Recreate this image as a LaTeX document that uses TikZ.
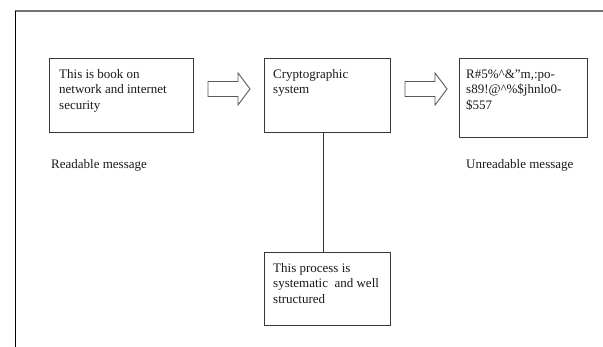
\documentclass[tikz,border=0pt]{standalone}
\usepackage{fontspec}
\setmainfont{Liberation Serif}
\begin{document}
\begin{tikzpicture}[x=1pt,y=-1pt,
  box/.style={draw=black!78,line width=1pt,fill=white,inner sep=0pt,anchor=north west},
  txt/.style={anchor=north west,inner sep=0pt,align=left,text=black!90,
    font=\fontsize{13}{15.5}\selectfont},
  caption/.style={anchor=base west,inner sep=0pt,text=black!90,
    font=\fontsize{13}{15.5}\selectfont},
  blockarrow/.style={draw=black!65,line width=0.9pt,fill=white,line join=miter},
  frameline/.style={line width=1pt}]
\useasboundingbox (0,0) rectangle (603,347);

% page frame: top and left edges
\coordinate (frameTL) at (15,11);
\coordinate (frameTR) at (603,11);
\coordinate (frameBL) at (15,347);
\draw[frameline,draw=black!55,line width=1.6pt] (frameTL) -- (frameTR);
\draw[frameline,draw=black] (frameTL) -- (frameBL);

% boxes
\node[box,minimum width=144,minimum height=74] (plain) at (49,58) {};
\node[box,minimum width=126,minimum height=74] (crypto) at (264,58) {};
\node[box,minimum width=128,minimum height=79] (cipher) at (459,58) {};
\node[box,minimum width=126,minimum height=73] (process) at (264,252) {};

% box texts
\node[txt] (plaintext) at ([xshift=10,yshift=-9]plain.north west)
  {\strut This is book on\\network and internet\\security};
\node[txt] (cryptotext) at ([xshift=9,yshift=-9]crypto.north west)
  {\strut Cryptographic\\system};
\node[txt] (ciphertext) at ([xshift=7,yshift=-9]cipher.north west)
  {\strut R\#5\%\^{}\&\textquotedblright m,:po-\\s89!@\^{}\%\$jhnlo0-\\\$557};
\node[txt] (processtext) at ([xshift=9,yshift=-9]process.north west)
  {\strut This process is\\systematic\ \ and well\\structured};

% captions
\node[caption] (readable) at (51,169) {Readable message};
\node[caption] (unreadable) at (466,169) {Unreadable message};

% link from the cryptographic system down to its note
\draw[draw=black!80,line width=1pt] ([xshift=-4]crypto.south) -- ([xshift=-4]crypto.south |- process.north);

% block arrows
\coordinate (arrowA) at (208,89);
\coordinate (arrowB) at (405,89);
\foreach \a in {arrowA,arrowB}{
  \draw[blockarrow] (\a) ++(0,-7.5) -- ++(30,0) -- ++(0,-8.5) -- ++(12,16)
    -- ++(-12,16) -- ++(0,-8.5) -- ++(-30,0) -- cycle;
}
\end{tikzpicture}
\end{document}
